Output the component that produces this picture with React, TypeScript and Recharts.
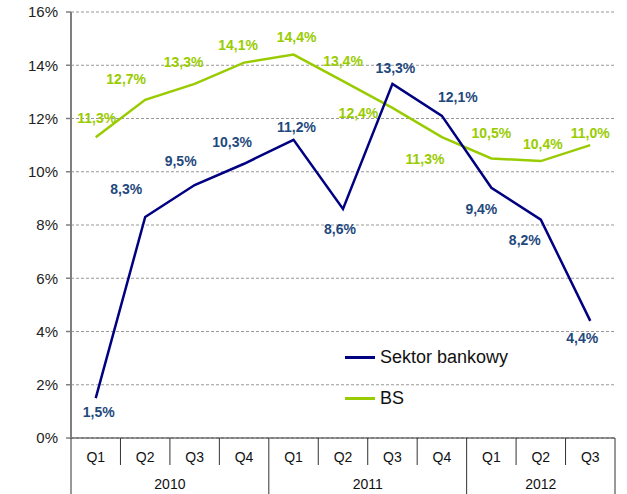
import React from 'react';
import { LineChart, Line, XAxis, YAxis, CartesianGrid, LabelList } from 'recharts';

const quarters = ['Q1', 'Q2', 'Q3', 'Q4', 'Q1', 'Q2', 'Q3', 'Q4', 'Q1', 'Q2', 'Q3'];
const years = ['2010', '2011', '2012'];
const yearSizes = [4, 4, 3];
const sektor = [1.5, 8.3, 9.5, 10.3, 11.2, 8.6, 13.3, 12.1, 9.4, 8.2, 4.4];
const bs = [11.3, 12.7, 13.3, 14.1, 14.4, 13.4, 12.4, 11.3, 10.5, 10.4, 11.0];
const yTicks = [0, 2, 4, 6, 8, 10, 12, 14, 16];
const seriesNames = ['Sektor bankowy', 'BS'];

// label offsets (styling)
const sektorOff = [[3, 14], [-19, -28], [-14, -24], [-12, -22], [3, -13], [-3, 20], [3, -16], [16, -19], [-10, 21], [-16, 20], [-8, 17]];
const bsOff = [[1, -19], [-19, -21], [-11, -22], [-6, -18], [3, -18], [0, -20], [-34, 5], [-17, 22], [0, -25], [2, -17], [0, -12]];

const data = quarters.map((q, i) => ({ q, idx: i, sektor: sektor[i], bs: bs[i] }));

const W = 627;
const H = 494;
const LEFT = 71;
const RIGHT = 615;
const TOP = 12;
const AXIS_Y = 438;
const BW = (RIGHT - LEFT) / quarters.length;
const FONT = 'Arial, "Liberation Sans", sans-serif';
const NAVY = '#000080';
const GREEN = '#99CC00';

const fmt = (v: number) => v.toFixed(1).replace('.', ',') + '%';

const yearStarts: number[] = [];
{
  let s = 0;
  yearSizes.forEach((n) => { yearStarts.push(s); s += n; });
}

const XTick = (props: any) => {
  const { x, index } = props;
  const i = typeof index === 'number' ? index : props.payload?.index ?? 0;
  const isYearStart = yearStarts.includes(i);
  const yi = yearStarts.indexOf(i);
  const left = x - BW / 2;
  return (
    <g>
      <text x={x} y={AXIS_Y + 19} textAnchor="middle" dominantBaseline="central" fontSize={14} fontFamily={FONT} fill="#111">
        {quarters[i]}
      </text>
      <line x1={left} x2={left} y1={AXIS_Y} y2={isYearStart ? H : AXIS_Y + 27} stroke="#333" strokeWidth={1} />
      {i === quarters.length - 1 && (
        <line x1={x + BW / 2} x2={x + BW / 2} y1={AXIS_Y} y2={H} stroke="#333" strokeWidth={1} />
      )}
      {isYearStart && (
        <text x={left + (yearSizes[yi] * BW) / 2} y={AXIS_Y + 46} textAnchor="middle" dominantBaseline="central" fontSize={14} fontFamily={FONT} fill="#111">
          {years[yi]}
        </text>
      )}
    </g>
  );
};

const makeLabel = (offs: number[][], color: string) => (props: any) => {
  const { x, y, value, index } = props;
  const o = offs[index] || [0, -15];
  return (
    <text x={x + o[0]} y={y + o[1]} textAnchor="middle" dominantBaseline="central" fontSize={14} fontWeight="bold" fontFamily={FONT} fill={color}>
      {fmt(value)}
    </text>
  );
};

const LegendOverlay = () => (
  <div style={{ position: 'absolute', left: 345, top: 347, fontFamily: FONT, fontSize: 18, color: '#111' }}>
    <div style={{ display: 'flex', alignItems: 'center', height: 20 }}>
      <div style={{ width: 30, height: 3, background: NAVY, marginRight: 5 }} />
      <span>{seriesNames[0]}</span>
    </div>
    <div style={{ display: 'flex', alignItems: 'center', height: 20, marginTop: 21 }}>
      <div style={{ width: 30, height: 3, background: GREEN, marginRight: 5 }} />
      <span>{seriesNames[1]}</span>
    </div>
  </div>
);

export default function App() {
  return (
    <div style={{ position: 'absolute', left: 0, top: 0, width: W, height: H, background: '#fff' }}>
      <LineChart width={W} height={H} data={data} margin={{ top: TOP, right: W - RIGHT, bottom: 0, left: 0 }}>
        <CartesianGrid vertical={false} stroke="#999" strokeDasharray="3 2" />
        <XAxis
          dataKey="idx"
          type="category"
          interval={0}
          height={H - AXIS_Y}
          padding={{ left: BW / 2, right: BW / 2 }}
          tickLine={false}
          axisLine={{ stroke: '#333', strokeWidth: 1 }}
          tick={<XTick />}
        />
        <YAxis
          width={LEFT}
          domain={[0, 16]}
          ticks={yTicks}
          interval={0}
          tickFormatter={(v: number) => v + '%'}
          tickSize={5}
          tickMargin={8}
          axisLine={{ stroke: '#7f7f7f', strokeWidth: 2 }}
          tickLine={{ stroke: '#7f7f7f', strokeWidth: 1.5 }}
          tick={{ fontSize: 15, fontFamily: FONT, fill: '#222' }}
        />
        <Line dataKey="bs" name={seriesNames[1]} stroke={GREEN} strokeWidth={2.5} dot={false} isAnimationActive={false}>
          <LabelList dataKey="bs" content={makeLabel(bsOff, GREEN)} />
        </Line>
        <Line dataKey="sektor" name={seriesNames[0]} stroke={NAVY} strokeWidth={2.5} dot={false} isAnimationActive={false}>
          <LabelList dataKey="sektor" content={makeLabel(sektorOff, '#1F497D')} />
        </Line>
      </LineChart>
      <LegendOverlay />
    </div>
  );
}
